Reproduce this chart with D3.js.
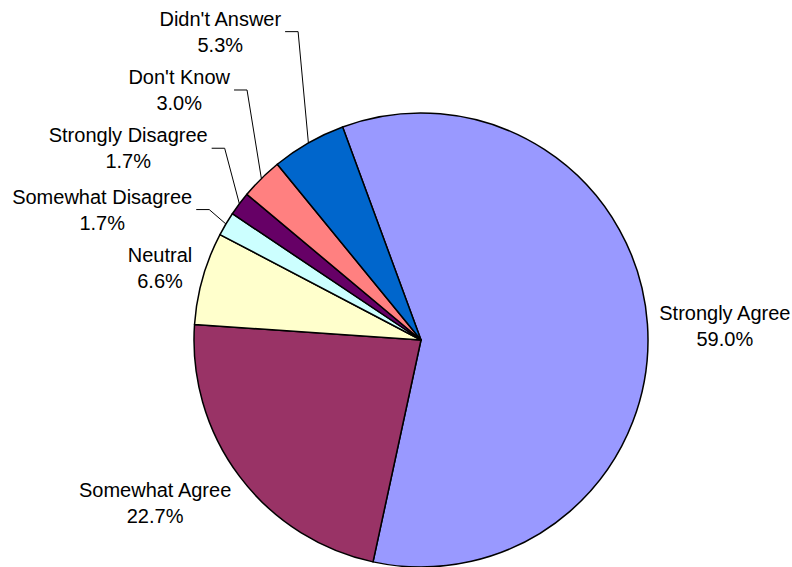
<!DOCTYPE html>
<html>
<head>
<meta charset="utf-8">
<script src="https://cdn.jsdelivr.net/npm/d3@7"></script>
<style>
  html, body { margin: 0; padding: 0; background: #fff; }
  svg { display: block; font-family: "Liberation Sans", Arial, sans-serif; }
</style>
</head>
<body>
<svg id="chart" width="792" height="567"></svg>
<script>
// slices in drawing order (clockwise)
const categories = ["Strongly Agree", "Somewhat Agree", "Neutral", "Somewhat Disagree",
  "Strongly Disagree", "Don't Know", "Didn't Answer"];
const percents = [59.0, 22.7, 6.6, 1.7, 1.7, 3.0, 5.3];
const colors = ["#9999ff", "#993366", "#ffffcc", "#ccffff", "#660066", "#ff8080", "#0066cc"];
// labels pulled away from the pie get a leader line
const hasLeader = [false, false, false, true, true, true, true];
// manual label nudges, like dragged labels in the original
const labelNudge = [[0, 4], [-14, 5], [0, 0], [-36, 4], [-38, -34], [-38, -63], [-52, -80]];

const width = 792;
const height = 567;
const cx = 421;
const cy = 340;
const radius = 227;
const gap = 12;
const startDeg = -20.2;

const svg = d3.select("#chart");
const g = svg.append("g").attr("transform", "translate(" + cx + "," + cy + ")");

const rows = categories.map((c, i) => ({ name: c, value: percents[i], i: i }));

const pie = d3.pie()
  .sort(null)
  .value(d => d.value)
  .startAngle(startDeg * Math.PI / 180)
  .endAngle((startDeg + 360) * Math.PI / 180);

const arc = d3.arc().innerRadius(0).outerRadius(radius);
const arcs = pie(rows);

g.selectAll("path.slice")
  .data(arcs)
  .enter().append("path")
  .attr("class", "slice")
  .attr("d", arc)
  .attr("fill", d => colors[d.data.i])
  .attr("stroke", "#000")
  .attr("stroke-width", 1.5)
  .attr("stroke-linejoin", "round");

const fmt = d3.format(".1f");
const lineGap = 26;

arcs.forEach(d => {
  const mid = (d.startAngle + d.endAngle) / 2;
  const s = Math.sin(mid);
  const c = -Math.cos(mid);
  const lab = g.append("g");
  const t1 = lab.append("text")
    .attr("text-anchor", "middle")
    .attr("font-size", 20)
    .attr("fill", "#000")
    .text(d.data.name);
  const t2 = lab.append("text")
    .attr("text-anchor", "middle")
    .attr("font-size", 20)
    .attr("fill", "#000")
    .text(fmt(d.data.value) + "%");
  const w = Math.max(t1.node().getComputedTextLength(), t2.node().getComputedTextLength());
  const h = 48;
  // box touches the pie at mid angle, then nudged
  const r = radius + gap;
  const nx = labelNudge[d.data.i][0];
  const ny = labelNudge[d.data.i][1];
  const x = r * s + s * w / 2 + nx;
  const y = r * c + c * h / 2 + ny;
  t1.attr("x", x).attr("y", y - lineGap / 2 + 7);
  t2.attr("x", x).attr("y", y + lineGap / 2 + 7);

  if (hasLeader[d.data.i]) {
    const x0 = x + w / 2 + 4;
    const x1 = x + w / 2 + 17;
    const pts = [[x0, y], [x1, y], [radius * s, radius * c]];
    g.append("path")
      .attr("d", d3.line()(pts))
      .attr("fill", "none")
      .attr("stroke", "#000")
      .attr("stroke-width", 1);
  }
});
</script>
</body>
</html>
